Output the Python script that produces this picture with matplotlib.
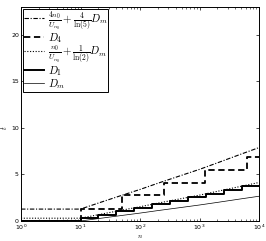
import matplotlib
matplotlib.use("Agg")
import matplotlib.pyplot as plt

plt.rcParams['mathtext.fontset'] = 'cm'
plt.rcParams['font.family'] = ['DejaVu Sans']

# Data
n_curve = [1, 10, 20, 50, 100, 200, 500, 1000, 2000, 5000, 10000]
Dm = [0, 0, 0.26, 0.6, 0.85, 1.12, 1.46, 1.72, 2.0, 2.38, 2.66]
bound1 = [0.3, 0.3, 0.68, 1.17, 1.53, 1.92, 2.41, 2.78, 3.19, 3.73, 4.14]
bound4 = [1.28, 1.28, 1.93, 2.77, 3.39, 4.06, 4.91, 5.55, 6.25, 7.19, 7.89]

n_D1 = [1, 10, 20, 40, 80, 160, 320, 640, 1280, 2560, 5120, 10000]
D1 = [0, 0.3, 0.68, 1.05, 1.43, 1.8, 2.18, 2.55, 2.93, 3.33, 3.75, 3.75]

n_D4 = [1, 10, 50, 250, 1250, 6250, 10000]
D4 = [0, 1.3, 2.77, 4.1, 5.5, 6.85, 6.85]

xticks = [1, 10, 100, 1000, 10000]
xticklabels = [r'$\mathregular{10^{0}}$', r'$\mathregular{10^{1}}$', r'$\mathregular{10^{2}}$',
               r'$\mathregular{10^{3}}$', r'$\mathregular{10^{4}}$']
yticks = [0, 5, 10, 15, 20]

labels = [r'$\frac{4n_0}{U_{n_0}}+\frac{4}{\ln(5)}D_m$', r'$D_4$',
          r'$\frac{n_0}{U_{n_0}}+\frac{1}{\ln(2)}D_m$', r'$D_1$', r'$D_m$']

fig = plt.figure(figsize=(2.66, 2.41), dpi=100)
ax = fig.add_axes([21/266, 1-221/241, (259-21)/266, (221-7)/241])

ax.plot(n_curve, bound4, color='black', lw=0.8, linestyle=(0, (4, 1.5, 1, 1.5)), label=labels[0])
ax.plot(n_D4, D4, color='black', lw=1.3, linestyle=(0, (3.5, 2)), drawstyle='steps-post', label=labels[1])
ax.plot(n_curve, bound1, color='black', lw=0.8, linestyle=(0, (1, 1.5)), label=labels[2])
ax.plot(n_D1, D1, color='black', lw=1.4, drawstyle='steps-post', label=labels[3])
ax.plot(n_curve, Dm, color='black', lw=0.5, label=labels[4])

ax.set_xscale('log')
ax.set_xlim(1, 10000)
ax.set_ylim(0, 23)
ax.set_xticks(xticks)
ax.set_xticklabels(xticklabels)
ax.set_yticks(yticks)
ax.tick_params(which='both', direction='in', top=True, right=True, labelsize=4.5, pad=1.5)
ax.tick_params(which='major', length=2.5, width=0.5)
ax.tick_params(which='minor', length=1.3, width=0.4)
for s in ax.spines.values():
    s.set_linewidth(0.7)

ax.set_xlabel(r'$n$', fontsize=5)
ax.set_ylabel(r'$t$', fontsize=5.5)
ax.xaxis.set_label_coords((140-21)/238, (221-236.5)/214)
ax.xaxis.label.set_verticalalignment('center')
ax.yaxis.set_label_coords((9-21)/238, (221-128)/214)

leg = ax.legend(loc='upper left', fontsize=7.8, frameon=True, fancybox=False,
                edgecolor='black', framealpha=1, borderaxespad=0.15,
                handlelength=1.9, handletextpad=0.3, labelspacing=-0.1,
                borderpad=0.1)
leg.get_frame().set_linewidth(0.7)

fig.savefig('out.png', dpi=100)
